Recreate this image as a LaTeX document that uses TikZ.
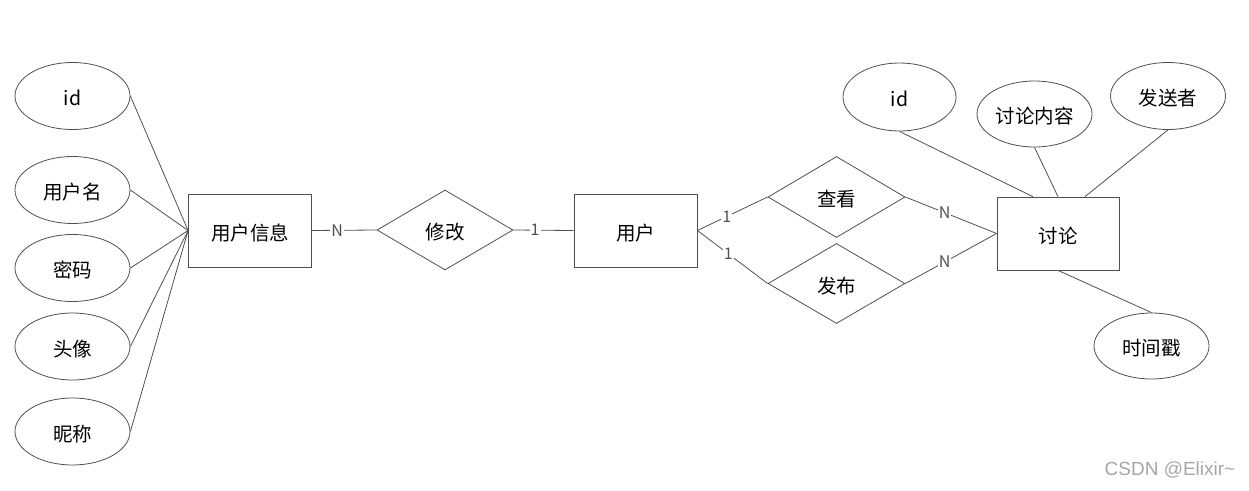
\documentclass[tikz,border=0pt]{standalone}
\usepackage{fontspec}
\newfontfamily\cjk{Noto Sans CJK SC}
\newfontfamily\wmfont{Liberation Sans}
\usetikzlibrary{shapes.geometric,calc}
\definecolor{linec}{HTML}{505050}
\tikzset{
  every node/.style={font=\cjk\fontsize{19.5}{22}\selectfont, text=black},
  shp/.style={draw=linec, line width=0.8pt, inner sep=0pt, text height=19pt, text depth=0pt},
  ent/.style={shp, rectangle, minimum width=123pt, minimum height=73pt},
  rel/.style={shp, diamond, minimum width=137pt, minimum height=80pt},
  attr/.style={shp, ellipse, minimum width=115pt, minimum height=67pt},
  conn/.style={draw=linec, line width=0.8pt},
  card/.style={fill=white, inner sep=1pt, text=linec, font=\cjk\fontsize{16}{18}\selectfont},
}
\begin{document}
\begin{tikzpicture}[x=1pt,y=-1pt]
\useasboundingbox (0,0) rectangle (1249,490);
% entities
\node[ent] (yhxx) at (250,230.5) {用户信息};
\node[ent] (yh) at (635.5,230.5) {用户};
\node[ent, minimum width=122pt] (tl) at (1058,233.5) {讨论};
% relations
\node[rel, minimum width=136pt] (xg) at (445,230) {修改};
\node[rel, minimum height=81pt] (ck) at (836.5,197) {查看};
\node[rel] (fb) at (836.5,283.5) {发布};
% left attributes
\node[attr] (a1) at (72.5,96) {id};
\node[attr] (a2) at (72.5,190) {用户名};
\node[attr] (a3) at (72.5,268) {密码};
\node[attr] (a4) at (72.5,346.5) {头像};
\node[attr] (a5) at (72.5,431.5) {昵称};
% right attributes
\node[attr, minimum width=113pt, minimum height=68pt] (b1) at (899.5,97) {id};
\node[attr, minimum height=66pt] (b2) at (1034.5,114) {讨论内容};
\node[attr] (b3) at (1168,96) {发送者};
\node[attr, minimum height=66pt] (b4) at (1151.5,346) {时间戳};
% attribute connectors
\foreach \a in {a1,a2,a3,a4,a5} \draw[conn] (\a.east) -- (yhxx.west);
\draw[conn] (b1.south) -- ($(tl.north west)!0.295!(tl.north east)$);
\draw[conn] (b2.south) -- (tl.north);
\draw[conn] (b3.south) -- ($(tl.north west)!0.72!(tl.north east)$);
\draw[conn] (tl.south) -- (b4.north);
% relationship connectors
\draw[conn] (yhxx.east) -- node[card, pos=0.39] {N} (xg.west);
\draw[conn] (xg.east) -- node[card, pos=0.36] {1} (yh.west);
\draw[conn] (yh.east) -- node[card, pos=0.42] {1} (ck.west);
\draw[conn] (yh.east) -- node[card, pos=0.44] {1} (fb.west);
\draw[conn] (ck.east) -- node[card, pos=0.43] {N} (tl.west);
\draw[conn] (fb.east) -- node[card, pos=0.43] {N} (tl.west);
% watermark
\node[font=\wmfont\fontsize{19}{22}\selectfont, text=black!35] (wm) at (1170,470) {CSDN @Elixir\textasciitilde};
\end{tikzpicture}
\end{document}
